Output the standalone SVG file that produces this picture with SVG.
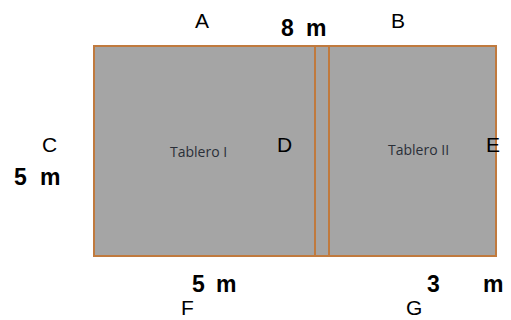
<svg xmlns="http://www.w3.org/2000/svg" width="511" height="320" viewBox="0 0 511 320">
<style>
.lbl{font-family:"Liberation Sans",Arial,sans-serif;font-size:21px;fill:#000}
.dim{font-family:"Liberation Sans",Arial,sans-serif;font-size:23px;font-weight:bold;fill:#000}
.tab{font-family:"Open Sans","Liberation Sans",sans-serif;font-size:14px;fill:#2a2f38}
.edge{stroke:#c07a3e;stroke-width:2}
.board{fill:#a5a5a5}
</style>
<rect width="511" height="320" fill="#fff"/>
<g id="board">
<rect x="94" y="46" width="402" height="210" class="board edge"/>
</g>
<g id="connectors">
<line x1="315" y1="46" x2="315" y2="256" class="edge"/>
<line x1="329" y1="46" x2="329" y2="256" class="edge"/>
</g>
<g id="tablero1"><text x="170" y="157" class="tab">Tablero I</text></g>
<g id="tablero2"><text x="388" y="155" class="tab">Tablero II</text></g>
<g id="labels">
<text x="195" y="28" class="lbl">A</text>
<text x="391" y="28" class="lbl">B</text>
<text x="42" y="152" class="lbl">C</text>
<text x="277" y="152" class="lbl">D</text>
<text x="486" y="152" class="lbl">E</text>
<text x="181" y="315" class="lbl">F</text>
<text x="406" y="315" class="lbl">G</text>
</g>
<g id="dims">
<text y="36" class="dim"><tspan x="281">8</tspan><tspan x="306">m</tspan></text>
<text y="185" class="dim"><tspan x="14">5</tspan><tspan x="40">m</tspan></text>
<text y="292" class="dim"><tspan x="192">5</tspan><tspan x="216">m</tspan></text>
<text y="292" class="dim"><tspan x="427">3</tspan><tspan x="483">m</tspan></text>
</g>
</svg>
